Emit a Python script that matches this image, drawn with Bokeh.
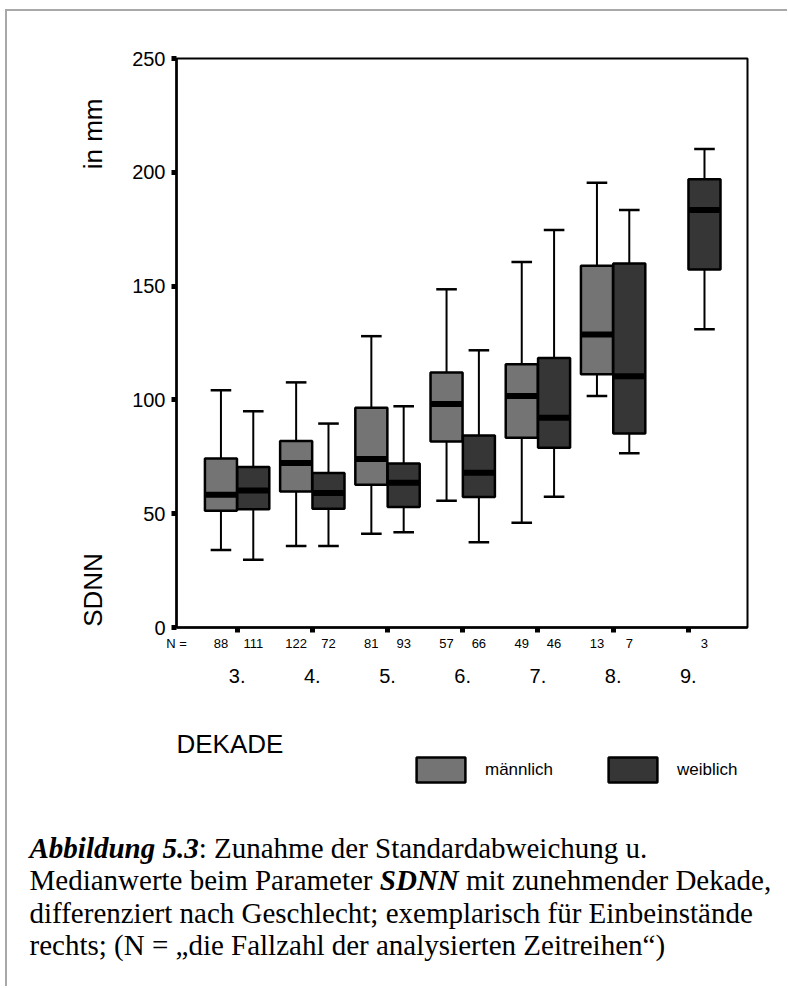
import math
from bokeh.plotting import figure
from bokeh.layouts import column, row
from bokeh.models import (Range1d, FixedTicker, Label, LinearAxis, Legend, LegendItem)
from bokeh.embed import file_html
from bokeh.resources import INLINE

# ---------------- data ----------------
decades = [3, 4, 5, 6, 7, 8, 9]
decade_labels = ["3.", "4.", "5.", "6.", "7.", "8.", "9."]
y_ticks = [0, 50, 100, 150, 200, 250]

# männlich (male)
m_dec = [3, 4, 5, 6, 7, 8]
m_n = [88, 122, 81, 57, 49, 13]
m_wlo = [34.0, 35.8, 41.2, 55.7, 46.0, 101.7]
m_q1 = [51.3, 59.8, 62.7, 81.7, 83.4, 111.3]
m_med = [58.3, 72.3, 74.0, 98.2, 101.7, 128.7]
m_q3 = [74.2, 81.9, 96.6, 112.0, 115.7, 158.9]
m_whi = [104.2, 107.7, 128.0, 148.6, 160.6, 195.4]

# weiblich (female)
f_dec = [3, 4, 5, 6, 7, 8, 9]
f_n = [111, 72, 93, 66, 46, 7, 3]
f_wlo = [29.8, 35.8, 41.9, 37.5, 57.5, 76.6, 131.0]
f_q1 = [52.0, 52.2, 52.9, 57.3, 79.0, 85.2, 157.3]
f_med = [60.2, 59.1, 63.6, 68.0, 92.2, 110.4, 183.4]
f_q3 = [70.5, 67.9, 72.1, 84.4, 118.4, 159.9, 197.0]
f_whi = [95.0, 89.6, 97.2, 121.8, 174.6, 183.4, 210.2]

# ---------------- layout constants ----------------
TOTAL_W = 780
WL = 110                      # left strip (rotated titles)
WM = TOTAL_W - WL             # main plot
HT = 689                      # height of top row
HB = 286                      # caption area
PB_TOP = 10                   # top inset of the caption area's frame
ML, MR, MT, MB = 59, 40, 47, 73
X0, X1 = 2.194, 9.787
Y0, Y1 = 0, 250
FRAME_H = HT - MT - MB
PX_PER_Y = FRAME_H / (Y1 - Y0)

MALE_COL = "#747474"
FEMALE_COL = "#363636"
OFF = 0.215
HW = 0.213
CAP = 0.137
SANS = "Liberation Sans"
SERIF = "Liberation Serif"

# ---------------- main plot ----------------
p = figure(width=WM, height=HT, output_backend="svg", toolbar_location=None,
           x_range=Range1d(X0, X1), y_range=Range1d(Y0, Y1),
           min_border_left=ML, min_border_right=MR,
           min_border_top=MT, min_border_bottom=MB)
p.grid.visible = False
p.outline_line_color = "black"
p.outline_line_width = 2
p.border_fill_color = "white"

for ax in (p.xaxis[0], p.yaxis[0]):
    ax.axis_line_width = 2.5
    ax.axis_line_color = "black"
    ax.major_label_text_font = SANS
    ax.major_label_text_color = "black"

# y axis: square tick marks
ya = p.yaxis[0]
ya.ticker = FixedTicker(ticks=y_ticks, minor_ticks=[])
ya.major_tick_in = 0
ya.major_tick_out = 5
ya.major_tick_line_width = 5
ya.major_tick_line_cap = "butt"
ya.minor_tick_line_color = None
ya.major_label_standoff = 6
ya.major_label_text_font_size = "20px"

# x axis A: square marks at decades (minor ticks) + case counts N
m_x = [d - OFF for d in m_dec]
f_x = [d + OFF for d in f_dec]
n_label_x = X0 + 0.001
n_ticks = m_x + f_x + [n_label_x]
n_over = {x: str(n) for x, n in zip(m_x, m_n)}
n_over.update({x: str(n) for x, n in zip(f_x, f_n)})
n_over[n_label_x] = "N ="
xa = p.xaxis[0]
xa.ticker = FixedTicker(ticks=n_ticks, minor_ticks=decades)
xa.major_label_overrides = n_over
xa.major_tick_line_color = None
xa.major_tick_in = 0
xa.major_tick_out = 5
xa.minor_tick_in = 0
xa.minor_tick_out = 5
xa.minor_tick_line_width = 5
xa.minor_tick_line_color = "black"
xa.minor_tick_line_cap = "butt"
xa.major_label_standoff = 3
xa.major_label_text_font_size = "13px"

# x axis C: decade labels
xc = LinearAxis(ticker=FixedTicker(ticks=decades, minor_ticks=[]),
                major_label_overrides={d: l for d, l in zip(decades, decade_labels)},
                axis_line_color=None, major_tick_line_color=None,
                minor_tick_line_color=None, major_tick_in=0, major_tick_out=0,
                major_label_standoff=15, major_label_text_font=SANS,
                major_label_text_font_size="20px", major_label_text_color="black")
p.add_layout(xc, "below")


def draw(fig, dec, wlo, q1, med, q3, whi, off, color):
    xs = [d + off for d in dec]
    data = dict(x=xs, left=[x - HW for x in xs], right=[x + HW for x in xs],
                cl=[x - CAP for x in xs], cr=[x + CAP for x in xs],
                wlo=wlo, q1=q1, med=med, q3=q3, whi=whi)
    fig.segment(x0="x", y0="q3", x1="x", y1="whi", source=data, line_color="black", line_width=2)
    fig.segment(x0="x", y0="q1", x1="x", y1="wlo", source=data, line_color="black", line_width=2)
    fig.segment(x0="cl", y0="whi", x1="cr", y1="whi", source=data, line_color="black", line_width=2.5)
    fig.segment(x0="cl", y0="wlo", x1="cr", y1="wlo", source=data, line_color="black", line_width=2.5)
    fig.quad(left="left", right="right", bottom="q1", top="q3", source=data,
             fill_color=color, line_color="black", line_width=2.5)
    fig.segment(x0="left", y0="med", x1="right", y1="med", source=data,
                line_color="black", line_width=6, line_cap="butt")

draw(p, m_dec, m_wlo, m_q1, m_med, m_q3, m_whi, -OFF, MALE_COL)
draw(p, f_dec, f_wlo, f_q1, f_med, f_q3, f_whi, OFF, FEMALE_COL)

# ---------------- left strip with the rotated titles ----------------
pl = figure(width=WL, height=HT, output_backend="svg", toolbar_location=None, title=None,
            x_range=Range1d(0, WL), y_range=p.y_range,
            min_border=0, min_border_left=0, min_border_right=0,
            x_axis_location=None, y_axis_location=None)
pl.outline_line_color = None
pl.grid.visible = False
pl.add_layout(Label(x=85, y=Y1 - 40 / PX_PER_Y, text="in mm", angle=math.pi / 2,
                    text_align="right", text_baseline="middle", text_font=SANS,
                    text_font_size="26px", text_color="black"))
pl.add_layout(Label(x=85, y=Y0 + 0.3, text="SDNN", angle=math.pi / 2,
                    text_align="left", text_baseline="middle", text_font=SANS,
                    text_font_size="26px", text_color="black"))

# ---------------- bottom area: x title, legend, caption ----------------
pb = figure(width=TOTAL_W, height=HB, output_backend="svg", toolbar_location=None, title=None,
            x_range=Range1d(0, TOTAL_W), y_range=Range1d(HB, PB_TOP),
            min_border=0, min_border_top=0, min_border_bottom=0,
            min_border_left=0, min_border_right=0,
            x_axis_location=None, y_axis_location=None)
pb.outline_line_color = None
pb.grid.visible = False

pb.add_layout(Label(x=169, y=52, text="DEKADE", text_align="left",
                    text_baseline="alphabetic", text_font=SANS, text_font_size="26px",
                    text_color="black"))

nan = float("nan")
rm = pb.quad(left=[nan], right=[nan], top=[nan], bottom=[nan],
             fill_color=MALE_COL, line_color="black", line_width=2.5)
rf = pb.quad(left=[nan], right=[nan], top=[nan], bottom=[nan],
             fill_color=FEMALE_COL, line_color="black", line_width=2.5)
legend = Legend(items=[LegendItem(label="männlich", renderers=[rm]),
                       LegendItem(label="weiblich", renderers=[rf])],
                location=(403, 201), orientation="horizontal",
                glyph_width=61, glyph_height=31, label_standoff=14, spacing=45,
                label_width=72, padding=0, margin=0, border_line_color=None,
                background_fill_alpha=0, label_text_font=SANS,
                label_text_font_size="17px", label_text_color="black")
pb.add_layout(legend, "center")

FS = 29
cap_lines = [
    [("Abbildung 5.3", True, 0.0), (": Zunahme der Standardabweichung u.", False, 5.835)],
    [("Medianwerte beim Parameter", False, 0.0), ("SDNN", True, 12.080),
     ("mit zunehmender Dekade,", False, 15.052)],
    [("differenziert nach Geschlecht; exemplarisch für Einbeinstände", False, 0.0)],
    [("rechts; (N = \u201edie Fallzahl der analysierten Zeitreihen\u201c)", False, 0.0)],
]
baselines = [152, 183.5, 215, 246]
for line, by in zip(cap_lines, baselines):
    for txt, bold, em in line:
        pb.add_layout(Label(x=22, y=by, x_offset=em * FS, text=txt,
                            text_align="left", text_baseline="alphabetic",
                            text_font=SERIF, text_font_size=f"{FS}px",
                            text_font_style="bold italic" if bold else "normal",
                            text_color="black"))

layout = column(row(pl, p), pb)
layout.styles = {"margin-left": "5px", "margin-top": "9px",
                 "border-left": "2px solid #a8a8a8", "border-top": "2px solid #a8a8a8"}

open("out.html", "w").write(file_html(layout, INLINE))
